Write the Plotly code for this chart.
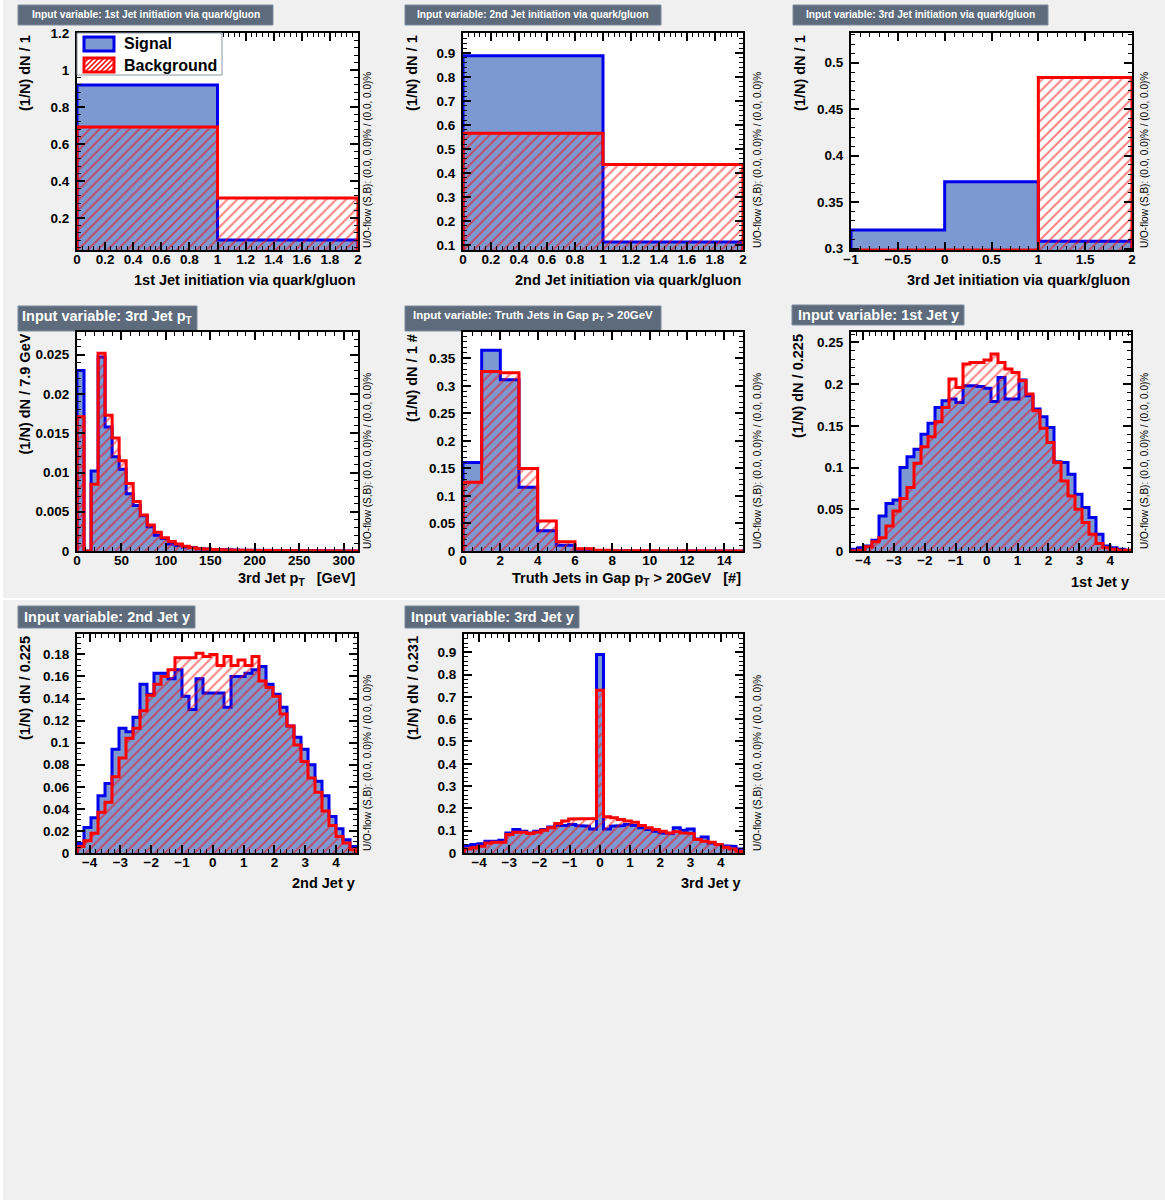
import numpy as np
import plotly.graph_objects as go

W, H = 1165, 1200
FONT = "Liberation Sans, Arial, Helvetica, sans-serif"

# ---------------- data (normalised histograms, (1/N) dN per bin) ----------------
# 1st jet initiation via quark/gluon
q1_edges = [0, 1, 2]
q1_sig = [0.919, 0.081]
q1_bkg = [0.692, 0.308]

# 2nd jet initiation via quark/gluon
q2_edges = [0, 1, 2]
q2_sig = [0.888, 0.112]
q2_bkg = [0.565, 0.435]

# 3rd jet initiation via quark/gluon
q3_edges = [-1, 0, 1, 2]
q3_sig = [0.320, 0.372, 0.308]
q3_bkg = [0.258, 0.258, 0.484]

# 3rd jet pT : 40 bins of 7.9 GeV from 0 to 316 GeV
pt3_range = (0.0, 316.0)
pt3_sig = [0.0230, 0.0, 0.0102, 0.0247, 0.0158, 0.0120, 0.0104, 0.0073, 0.0058, 0.0045,
           0.0031, 0.0020, 0.0016, 0.0009, 0.0007, 0.0005, 0.00045, 0.0003, 0.00025, 0.0002,
           0.00018, 0.00015, 0.00012, 0.0001, 0.0001, 0.00008, 0.00007, 0.00006, 0.00005, 0.00005,
           0.00004, 0.00004, 0.00003, 0.00003, 0.00003, 0.00002, 0.00002, 0.00002, 0.00002, 0.00001]
pt3_bkg = [0.0171, 0.0, 0.0085, 0.0252, 0.0173, 0.0144, 0.0115, 0.0086, 0.0063, 0.0046,
           0.0033, 0.0024, 0.0017, 0.0012, 0.0009, 0.0006, 0.0004, 0.0003, 0.00025, 0.0002,
           0.00015, 0.00012, 0.0001, 0.00008, 0.00007, 0.00006, 0.00005, 0.00005, 0.00004, 0.00004,
           0.00003, 0.00003, 0.00003, 0.00002, 0.00002, 0.00002, 0.00002, 0.00001, 0.00001, 0.00001]

# Truth jets in gap pT > 20 GeV : 15 bins of width 1
ngap_range = (0.0, 15.0)
ngap_sig = [0.161, 0.365, 0.311, 0.116, 0.037, 0.0104, 0.003, 0.001, 0.0005, 0.0002,
            0.0001, 0.0, 0.0, 0.0, 0.0]
ngap_bkg = [0.125, 0.326, 0.324, 0.150, 0.0547, 0.0166, 0.0043, 0.0012, 0.0004, 0.0002,
            0.0001, 0.0001, 0.0, 0.0, 0.0]

# 1st jet rapidity : 40 bins
y1_range = (-4.39, 4.67)
y1_sig = [0.002, 0.004, 0.006, 0.013, 0.042, 0.057, 0.061, 0.100, 0.113, 0.122,
          0.140, 0.153, 0.172, 0.180, 0.182, 0.178, 0.198, 0.198, 0.197, 0.195,
          0.179, 0.208, 0.182, 0.182, 0.205, 0.186, 0.170, 0.161, 0.148, 0.107,
          0.106, 0.092, 0.068, 0.052, 0.040, 0.020, 0.006, 0.004, 0.002, 0.001]
y1_bkg = [0.000, 0.001, 0.005, 0.011, 0.016, 0.030, 0.048, 0.063, 0.076, 0.105,
          0.125, 0.137, 0.155, 0.172, 0.206, 0.196, 0.224, 0.226, 0.226, 0.229,
          0.236, 0.226, 0.218, 0.214, 0.204, 0.188, 0.168, 0.147, 0.130, 0.106,
          0.084, 0.066, 0.050, 0.034, 0.020, 0.009, 0.004, 0.002, 0.001, 0.001]

# 2nd jet rapidity : 40 bins
y2_range = (-4.41, 4.68)
y2_sig = [0.0086, 0.023, 0.032, 0.052, 0.063, 0.094, 0.113, 0.110, 0.123, 0.153,
          0.144, 0.163, 0.163, 0.158, 0.166, 0.142, 0.130, 0.158, 0.145, 0.145,
          0.145, 0.132, 0.160, 0.160, 0.163, 0.166, 0.169, 0.153, 0.144, 0.132,
          0.115, 0.105, 0.094, 0.080, 0.065, 0.052, 0.033, 0.022, 0.012, 0.006]
y2_bkg = [0.006, 0.011, 0.018, 0.037, 0.046, 0.069, 0.086, 0.104, 0.113, 0.129,
          0.143, 0.153, 0.160, 0.166, 0.177, 0.177, 0.177, 0.181, 0.178, 0.180,
          0.170, 0.178, 0.170, 0.175, 0.170, 0.178, 0.156, 0.150, 0.142, 0.126,
          0.115, 0.098, 0.083, 0.068, 0.055, 0.038, 0.025, 0.015, 0.009, 0.003]

# 3rd jet rapidity : 40 bins
y3_range = (-4.50, 4.74)
y3_sig = [0.033, 0.038, 0.042, 0.053, 0.053, 0.057, 0.090, 0.105, 0.098, 0.090,
          0.098, 0.105, 0.117, 0.123, 0.123, 0.128, 0.123, 0.120, 0.108, 0.890,
          0.108, 0.120, 0.123, 0.128, 0.123, 0.113, 0.105, 0.098, 0.090, 0.087,
          0.113, 0.102, 0.108, 0.063, 0.072, 0.045, 0.038, 0.033, 0.030, 0.018]
y3_bkg = [0.018, 0.023, 0.030, 0.045, 0.048, 0.048, 0.083, 0.093, 0.093, 0.087,
          0.093, 0.102, 0.113, 0.132, 0.143, 0.153, 0.156, 0.156, 0.155, 0.730,
          0.162, 0.158, 0.150, 0.143, 0.138, 0.123, 0.113, 0.105, 0.098, 0.090,
          0.095, 0.090, 0.087, 0.060, 0.053, 0.048, 0.038, 0.026, 0.018, 0.008]

legend_labels = ["Signal", "Background"]

# ---------------- colours (TMVA style) ----------------
SIG_FILL, SIG_LINE = "#7d99d1", "#0000ee"
BKG_LINE = "#ff0000"
TITLE_BOX, TITLE_BORDER = "#5d6b7d", "#7d8b9d"
CANVAS = "#f0f0f0"


def uniform_edges(rng, vals):
    return np.linspace(rng[0], rng[1], len(vals) + 1)


# ---------------- panel layout (pixel geometry) ----------------
panels = [
    dict(edges=q1_edges, sig=q1_sig, bkg=q1_bkg, xr=[0, 2], yr=[0.027, 1.2],
         xd=0.2, xm=0.04, yd=0.2, ym=0.04,
         px=(77, 358), py=(33, 250),
         xtitle="1st Jet initiation via quark/gluon", xty=280,
         ytitle="(1/N) dN / 1", ytx=25, uox=367,
         title="Input variable: 1st Jet initiation via quark/gluon", tsize=10.2,
         box=(18, 273, 5, 25), tty=15),
    dict(edges=q2_edges, sig=q2_sig, bkg=q2_bkg, xr=[0, 2], yr=[0.079, 0.983],
         xd=0.2, xm=0.04, yd=0.1, ym=0.02,
         px=(463, 743), py=(33, 250),
         xtitle="2nd Jet initiation via quark/gluon", xty=280,
         ytitle="(1/N) dN / 1", ytx=412, uox=757,
         title="Input variable: 2nd Jet initiation via quark/gluon", tsize=10.2,
         box=(405, 661, 5, 25), tty=15),
    dict(edges=q3_edges, sig=q3_sig, bkg=q3_bkg, xr=[-1, 2], yr=[0.2985, 0.532],
         xd=0.5, xm=0.1, yd=0.05, ym=0.01,
         px=(851, 1132), py=(33, 250),
         xtitle="3rd Jet initiation via quark/gluon", xty=280,
         ytitle="(1/N) dN / 1", ytx=800, uox=1144,
         title="Input variable: 3rd Jet initiation via quark/gluon", tsize=10.2,
         box=(793, 1048, 5, 25), tty=15),
    dict(edges=uniform_edges(pt3_range, pt3_sig), sig=pt3_sig, bkg=pt3_bkg,
         xr=list(pt3_range), yr=[0, 0.0279],
         xd=50, xm=10, yd=0.005, ym=0.001,
         px=(77, 358), py=(332, 551),
         xtitle="3rd Jet p<sub>T</sub>&nbsp;&nbsp;&nbsp;[GeV]", xty=579,
         ytitle="(1/N) dN / 7.9 GeV", ytx=25, uox=367,
         title="Input variable: 3rd Jet p<sub>T</sub>", tsize=14.5,
         box=(18, 197, 306, 331), tty=317),
    dict(edges=uniform_edges(ngap_range, ngap_sig), sig=ngap_sig, bkg=ngap_bkg,
         xr=list(ngap_range), yr=[0, 0.398],
         xd=2, xm=0.5, yd=0.05, ym=0.01,
         px=(463, 743), py=(332, 551),
         xtitle="Truth Jets in Gap p<sub>T</sub> &gt; 20GeV&nbsp;&nbsp;&nbsp;[#]", xty=579,
         ytitle="(1/N) dN / 1 #", ytx=412, uox=757,
         title="Input variable: Truth Jets in Gap p<sub>T</sub> &gt; 20GeV", tsize=11.5,
         box=(405, 661, 306, 331), tty=316),
    dict(edges=uniform_edges(y1_range, y1_sig), sig=y1_sig, bkg=y1_bkg,
         xr=list(y1_range), yr=[0, 0.2624],
         xd=1, xm=0.2, yd=0.05, ym=0.01,
         px=(851, 1131), py=(332, 551),
         xtitle="1st Jet y", xty=582,
         ytitle="(1/N) dN / 0.225", ytx=798, uox=1144,
         title="Input variable: 1st Jet y", tsize=14.5,
         box=(792, 964, 305, 325), tty=315),
    dict(edges=uniform_edges(y2_range, y2_sig), sig=y2_sig, bkg=y2_bkg,
         xr=list(y2_range), yr=[0, 0.1985],
         xd=1, xm=0.2, yd=0.02, ym=0.005,
         px=(77, 357), py=(634, 853),
         xtitle="2nd Jet y", xty=883,
         ytitle="(1/N) dN / 0.225", ytx=25, uox=367,
         title="Input variable: 2nd Jet y", tsize=14.5,
         box=(18, 195, 606, 628), tty=617),
    dict(edges=uniform_edges(y3_range, y3_sig), sig=y3_sig, bkg=y3_bkg,
         xr=list(y3_range), yr=[0, 0.982],
         xd=1, xm=0.2, yd=0.1, ym=0.02,
         px=(464, 743), py=(634, 853),
         xtitle="3rd Jet y", xty=883,
         ytitle="(1/N) dN / 0.231", ytx=413, uox=757,
         title="Input variable: 3rd Jet y", tsize=14.5,
         box=(405, 579, 606, 628), tty=617),
]

# legend geometry (pixels): box and the two swatches
LEG_BOX = (77, 222, 33, 75)
LEG_SWATCH = [(84, 114, 37, 51), (84, 114, 58, 72)]
LEG_TEXT = [(122, 44), (122, 65)]


def step_polygon(edges, vals, ymin):
    xs, ys = [edges[0]], [ymin]
    for i, v in enumerate(vals):
        v = max(v, ymin)
        xs += [edges[i], edges[i + 1]]
        ys += [v, v]
    xs.append(edges[-1])
    ys.append(ymin)
    return xs, ys


fig = go.Figure()
shapes, annotations = [], []


def px2x(p):
    return p / W


def py2y(p):
    return 1 - p / H


for i, p in enumerate(panels, start=1):
    xa = "x" if i == 1 else f"x{i}"
    ya = "y" if i == 1 else f"y{i}"
    ymin = p["yr"][0]

    xs, ys = step_polygon(list(p["edges"]), p["sig"], ymin)
    fig.add_trace(go.Scatter(x=xs, y=ys, mode="lines", fill="toself", fillcolor=SIG_FILL,
                             line=dict(color=SIG_LINE, width=3), xaxis=xa, yaxis=ya,
                             showlegend=False, hoverinfo="skip"))
    xb, yb = step_polygon(list(p["edges"]), p["bkg"], ymin)
    fig.add_trace(go.Scatter(x=xb, y=yb, mode="lines", fill="toself",
                             fillcolor="rgba(0,0,0,0)",
                             fillpattern=dict(shape="/", fgcolor=BKG_LINE,
                                              bgcolor="rgba(0,0,0,0)", size=7, solidity=0.28),
                             line=dict(color=BKG_LINE, width=3), xaxis=xa, yaxis=ya,
                             showlegend=False, hoverinfo="skip"))

    axis_common = dict(showline=True, linecolor="black", linewidth=2, mirror="allticks",
                       ticks="inside", ticklen=8, tickwidth=1.5, tickcolor="black",
                       showgrid=False, zeroline=False, automargin=False,
                       tickfont=dict(family=FONT, size=13.5, color="black", weight="bold"))
    x0, x1 = p["px"]
    y0, y1 = p["py"]
    fig.layout[("xaxis" if i == 1 else f"xaxis{i}")] = dict(
        axis_common, domain=[px2x(x0), px2x(x1)], anchor=ya, range=p["xr"],
        tick0=0, dtick=p["xd"], ticklabelstandoff=-4,
        minor=dict(ticks="inside", ticklen=4, tickwidth=1, tickcolor="black",
                   dtick=p["xm"], tick0=0, showgrid=False))
    fig.layout[("yaxis" if i == 1 else f"yaxis{i}")] = dict(
        axis_common, domain=[py2y(y1), py2y(y0)], anchor=xa, range=p["yr"],
        tick0=0, dtick=p["yd"], ticklabelstandoff=3,
        minor=dict(ticks="inside", ticklen=4, tickwidth=1, tickcolor="black",
                   dtick=p["ym"], tick0=0, showgrid=False))

    # x title (right aligned)
    annotations.append(dict(xref="paper", yref="paper", x=px2x(x1), y=py2y(p["xty"]),
                            xanchor="right", yanchor="middle", showarrow=False,
                            text=p["xtitle"],
                            font=dict(family=FONT, size=14.5, color="black", weight="bold")))
    # y title (rotated, top aligned)
    annotations.append(dict(xref="paper", yref="paper", x=px2x(p["ytx"]), y=py2y(y0),
                            xanchor="center", yanchor="top", showarrow=False, textangle=-90,
                            text=p["ytitle"],
                            font=dict(family=FONT, size=14.5, color="black", weight="bold")))
    # under/overflow text
    annotations.append(dict(xref="paper", yref="paper", x=px2x(p["uox"]), y=py2y(y1),
                            xanchor="center", yanchor="bottom", showarrow=False, textangle=-90,
                            text="U/O-flow (S,B): (0.0, 0.0)% / (0.0, 0.0)%",
                            font=dict(family=FONT, size=10, color="black")))
    # title box
    bx0, bx1, by0, by1 = p["box"]
    shapes.append(dict(type="rect", xref="paper", yref="paper",
                       x0=px2x(bx0), x1=px2x(bx1), y0=py2y(by1), y1=py2y(by0),
                       fillcolor=TITLE_BOX, line=dict(color=TITLE_BORDER, width=1), layer="below"))
    annotations.append(dict(xref="paper", yref="paper", x=px2x((bx0 + bx1) / 2),
                            y=py2y(p["tty"]), xanchor="center", yanchor="middle",
                            showarrow=False, text=p["title"],
                            font=dict(family=FONT, size=p["tsize"], color="white",
                                      weight="bold")))


# ---------------- legend (drawn like the ROOT TLegend) ----------------
def rect(x0, x1, y0, y1, **kw):
    return dict(type="rect", xref="paper", yref="paper",
                x0=px2x(x0), x1=px2x(x1), y0=py2y(y1), y1=py2y(y0), **kw)


def hatch_path(x0, x1, y0, y1, spacing=5):
    h = y1 - y0
    segs = []
    x = x0 - h
    while x < x1:
        t_lo, t_hi = max(0.0, x0 - x), min(h, x1 - x)
        if t_lo < t_hi:
            segs.append("M%.5f,%.5f L%.5f,%.5f" % (px2x(x + t_lo), py2y(y1 - t_lo),
                                                   px2x(x + t_hi), py2y(y1 - t_hi)))
        x += spacing
    return " ".join(segs)


lx0, lx1, ly0, ly1 = LEG_BOX
shapes.append(rect(lx0, lx1, ly0, ly1, fillcolor="white",
                   line=dict(color="#8c96a5", width=1), layer="above"))
sx0, sx1, sy0, sy1 = LEG_SWATCH[0]
shapes.append(rect(sx0, sx1, sy0, sy1, fillcolor=SIG_FILL,
                   line=dict(color=SIG_LINE, width=3), layer="above"))
bx0, bx1, by0, by1 = LEG_SWATCH[1]
shapes.append(rect(bx0, bx1, by0, by1, fillcolor="white", line=dict(width=0), layer="above"))
shapes.append(dict(type="path", xref="paper", yref="paper",
                   path=hatch_path(bx0, bx1, by0, by1),
                   line=dict(color=BKG_LINE, width=1.5), layer="above"))
shapes.append(rect(bx0, bx1, by0, by1, fillcolor="rgba(0,0,0,0)",
                   line=dict(color=BKG_LINE, width=3), layer="above"))
for (tx, ty), lab in zip(LEG_TEXT, legend_labels):
    annotations.append(dict(xref="paper", yref="paper", x=px2x(tx), y=py2y(ty),
                            xanchor="left", yanchor="middle", showarrow=False, text=lab,
                            font=dict(family=FONT, size=16, color="black", weight="bold")))

# canvas seams
shapes.append(dict(type="line", xref="paper", yref="paper", x0=0, x1=1,
                   y0=py2y(599), y1=py2y(599), line=dict(color="white", width=2),
                   layer="below"))
shapes.append(dict(type="rect", xref="paper", yref="paper", x0=0, x1=px2x(3),
                   y0=0, y1=1, fillcolor="white", line=dict(width=0), layer="below"))

fig.update_layout(
    width=W, height=H, autosize=False,
    margin=dict(l=0, r=0, t=0, b=0, pad=0, autoexpand=False),
    paper_bgcolor=CANVAS, plot_bgcolor="white",
    shapes=shapes, annotations=annotations,
    showlegend=False,
    font=dict(family=FONT),
)

fig.write_html("out.html", config={"displayModeBar": False},
               post_script="document.body.style.margin='0';document.body.style.padding='0';")
